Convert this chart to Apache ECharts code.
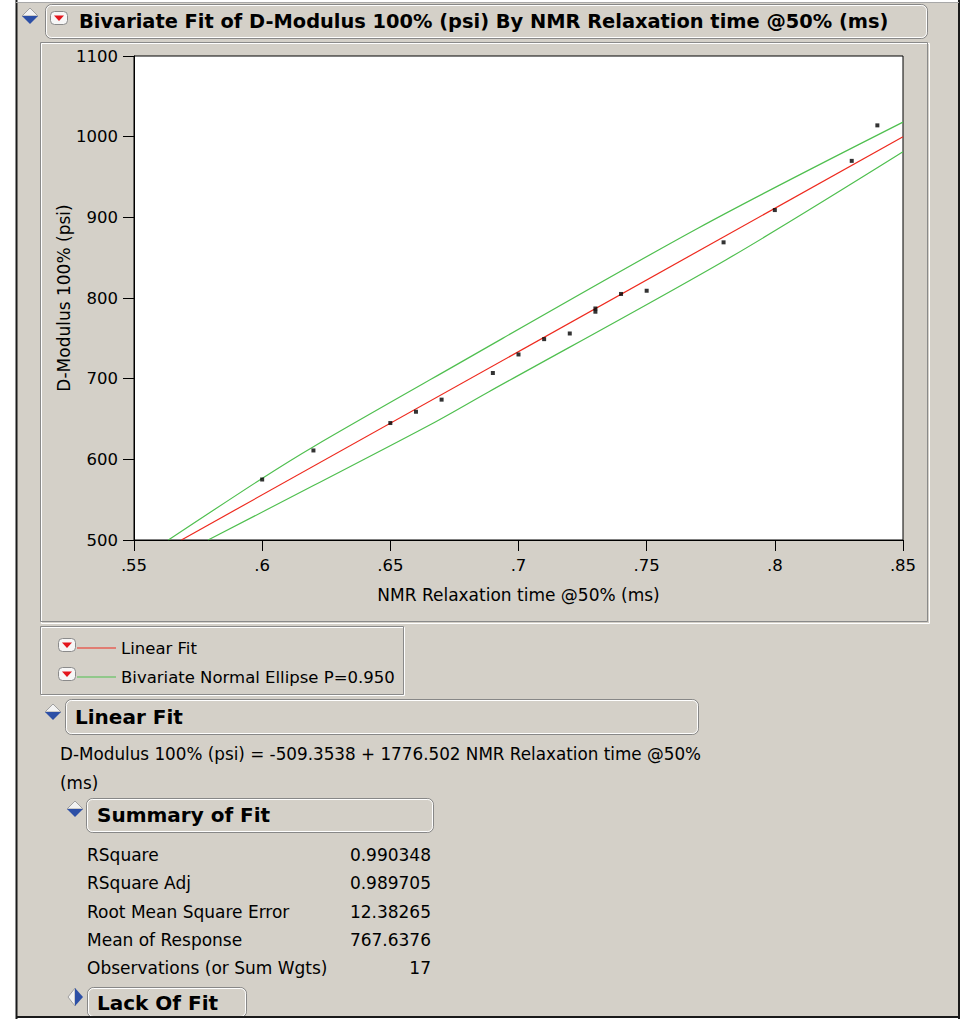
<!DOCTYPE html>
<html><head><meta charset="utf-8">
<script src="https://cdn.jsdelivr.net/npm/echarts@6/dist/echarts.min.js"></script>
<style>html,body{margin:0;padding:0;background:#fff;}#chart{width:961px;height:1019px;}</style>
</head><body><div id="chart"></div>
<script>
const titleText = 'Bivariate Fit of D-Modulus 100% (psi) By NMR Relaxation time @50% (ms)';
const xAxisName = 'NMR Relaxation time @50% (ms)';
const yAxisName = 'D-Modulus 100% (psi)';
const xTickLabels = ['.55', '.6', '.65', '.7', '.75', '.8', '.85'];
const yTickLabels = ['500', '600', '700', '800', '900', '1000', '1100'];
const nmrTime = [0.60, 0.62, 0.65, 0.66, 0.67, 0.69, 0.70, 0.71, 0.72, 0.73, 0.73, 0.74, 0.75, 0.78, 0.80, 0.83, 0.84];
const dModulus = [575, 611, 645, 659, 674, 707, 730, 749, 756, 787, 783, 805, 809, 869, 909, 970, 1014];
const fitLineX = [0.5685, 0.85];
const fitLineY = [500, 1000];
const ellipseUpperX = [0.5634, 0.5998, 0.620, 0.666, 0.770, 0.850];
const ellipseUpperY = [500, 576, 615.7, 699.5, 886.5, 1018];
const ellipseLowerX = [0.5789, 0.6202, 0.667, 0.6883, 0.7812, 0.850];
const ellipseLowerY = [500, 567.8, 645.4, 683.5, 847.8, 981.2];
const legendNames = ['Linear Fit', 'Bivariate Normal Ellipse P=0.950'];
const fitSectionTitle = 'Linear Fit';
const equationLines = ['D-Modulus 100% (psi) = -509.3538 + 1776.502 NMR Relaxation time @50%', '(ms)'];
const summaryTitle = 'Summary of Fit';
const summaryLabels = ['RSquare', 'RSquare Adj', 'Root Mean Square Error', 'Mean of Response', 'Observations (or Sum Wgts)'];
const summaryValues = ['0.990348', '0.989705', '12.38265', '767.6376', '17'];
const lackTitle = 'Lack Of Fit';

const BG = '#d4d0c8';
const FONT = '"DejaVu Sans", Verdana, sans-serif';
const xMin = 0.55, xMax = 0.85, xStep = 0.05;
const yMin = 500, yMax = 1100, yStep = 100;

function pairs(xs, ys) { return xs.map((x, i) => [x, ys[i]]); }

function txt(x, y, text, font, align) {
  return { type: 'text', x: x, y: y, z: 10, silent: true,
    style: { text: text, font: font, fill: '#000', align: align || 'left', verticalAlign: 'middle' } };
}
function headerBox(x, y, w, h) {
  return [
    { type: 'rect', z: -3, silent: true, shape: { x: x + 0.5, y: y + 0.5, width: w, height: h, r: 6 }, style: { fill: BG, stroke: '#878787', lineWidth: 1 } },
    { type: 'rect', z: -2, silent: true, shape: { x: x + 1.5, y: y + 1.5, width: w - 2, height: h - 2, r: 5 }, style: { fill: 'none', stroke: '#ffffff', lineWidth: 1 } }
  ];
}
function openDiamond(cx, cy) {
  return [
    { type: 'polygon', z: 5, silent: true, shape: { points: [[cx - 8, cy - 1], [cx, cy - 9], [cx + 8, cy - 1]] }, style: { fill: '#f2f2f2', stroke: '#a0a0a0', lineWidth: 1 } },
    { type: 'polygon', z: 5, silent: true, shape: { points: [[cx - 8, cy - 1], [cx + 8, cy - 1], [cx, cy + 7]] }, style: { fill: '#2c4fa6' } }
  ];
}
function closedDiamond(cx, cy) {
  return [
    { type: 'polygon', z: 5, silent: true, shape: { points: [[cx, cy - 9], [cx - 7, cy], [cx, cy + 9]] }, style: { fill: '#f2f2f2', stroke: '#a0a0a0', lineWidth: 1 } },
    { type: 'polygon', z: 5, silent: true, shape: { points: [[cx, cy - 9], [cx + 8, cy], [cx, cy + 9]] }, style: { fill: '#2c4fa6' } }
  ];
}
function redButton(cx, cy) {
  return [
    { type: 'rect', z: 5, silent: true, shape: { x: cx - 8.5, y: cy - 6.5, width: 17, height: 13, r: 4 }, style: { fill: '#f6f6f6', stroke: '#8a8a8a', lineWidth: 1 } },
    { type: 'polygon', z: 6, silent: true, shape: { points: [[cx - 5, cy - 2.5], [cx + 5, cy - 2.5], [cx, cy + 3]] }, style: { fill: '#e3151c' } }
  ];
}

let graphics = [];
graphics.push({ type: 'rect', z: -10, silent: true, shape: { x: 16, y: 2, width: 943, height: 1015 }, style: { fill: BG } });
graphics.push({ type: 'line', z: -1, silent: true, shape: { x1: 16.5, y1: 0, x2: 16.5, y2: 1019 }, style: { stroke: '#1a1a1a', lineWidth: 2 } });
graphics.push({ type: 'line', z: -1, silent: true, shape: { x1: 959, y1: 0, x2: 959, y2: 1019 }, style: { stroke: '#1a1a1a', lineWidth: 2 } });
graphics.push({ type: 'line', z: -1, silent: true, shape: { x1: 16, y1: 1017, x2: 960, y2: 1017 }, style: { stroke: '#1a1a1a', lineWidth: 2 } });
graphics.push({ type: 'line', z: -1, silent: true, shape: { x1: 16, y1: 2.5, x2: 959, y2: 2.5 }, style: { stroke: '#a8a8a8', lineWidth: 1 } });
graphics = graphics.concat(headerBox(45, 4, 882, 34));
graphics = graphics.concat(openDiamond(30, 17));
graphics = graphics.concat(redButton(59, 18));
graphics.push(txt(79, 21, titleText, 'bold 19.4px ' + FONT));
graphics.push({ type: 'rect', z: -3, silent: true, shape: { x: 41.5, y: 43.5, width: 888, height: 580 }, style: { fill: 'none', stroke: '#ffffff', lineWidth: 1 } });
graphics.push({ type: 'rect', z: -3, silent: true, shape: { x: 40.5, y: 42.5, width: 887, height: 579 }, style: { fill: 'none', stroke: '#8a8a8a', lineWidth: 1 } });
graphics.push({ type: 'rect', z: -3, silent: true, shape: { x: 41.5, y: 627.5, width: 363, height: 68 }, style: { fill: 'none', stroke: '#ffffff', lineWidth: 1 } });
graphics.push({ type: 'rect', z: -3, silent: true, shape: { x: 40.5, y: 626.5, width: 363, height: 68 }, style: { fill: 'none', stroke: '#8a8a8a', lineWidth: 1 } });
graphics = graphics.concat(redButton(67, 645));
graphics = graphics.concat(redButton(67, 674));
graphics = graphics.concat(headerBox(65, 699, 633, 35));
graphics = graphics.concat(openDiamond(53, 713));
graphics.push(txt(75, 717, fitSectionTitle, 'bold 20px ' + FONT));
graphics.push(txt(60, 754, equationLines[0], '16.8px ' + FONT));
graphics.push(txt(60, 783, equationLines[1], '16.8px ' + FONT));
graphics = graphics.concat(headerBox(86, 798, 347, 34));
graphics = graphics.concat(openDiamond(75, 810));
graphics.push(txt(97, 815, summaryTitle, 'bold 20px ' + FONT));
summaryLabels.forEach(function (lab, i) {
  const y = 855 + i * 28.3;
  graphics.push(txt(87, y, lab, '17px ' + FONT));
  graphics.push(txt(431, y, summaryValues[i], '17px ' + FONT, 'right'));
});
graphics = graphics.concat(headerBox(87, 987, 159, 30));
graphics = graphics.concat(closedDiamond(75, 997));
graphics.push(txt(97, 1003, lackTitle, 'bold 20px ' + FONT));

const chart = echarts.init(document.getElementById('chart'), null, { renderer: 'svg' });
chart.setOption({
  backgroundColor: '#ffffff',
  animation: false,
  textStyle: { fontFamily: FONT },
  grid: { left: 134, right: 58, top: 56, bottom: 479, show: true, backgroundColor: '#ffffff', borderColor: '#000000', borderWidth: 1, containLabel: false },
  legend: {
    data: legendNames, orient: 'vertical', left: 77, top: 638, padding: 0,
    itemWidth: 39, itemHeight: 1, itemGap: 9, icon: 'rect', selectedMode: false,
    textStyle: { fontFamily: FONT, fontSize: 16.5, color: '#000', lineHeight: 20 }
  },
  xAxis: {
    type: 'value', min: xMin, max: xMax, interval: xStep,
    name: xAxisName, nameLocation: 'middle', nameGap: 46, nameMoveOverlap: false,
    nameTextStyle: { fontFamily: FONT, fontSize: 17, color: '#000' },
    axisLine: { show: true, onZero: false, lineStyle: { color: '#000', width: 1 } },
    axisTick: { show: true, inside: false, length: 11, lineStyle: { color: '#000' } },
    axisLabel: { margin: 17, fontFamily: FONT, fontSize: 16.5, color: '#000',
      formatter: function (v) { return xTickLabels[Math.round((v - xMin) / xStep)]; } },
    splitLine: { show: false }
  },
  yAxis: {
    type: 'value', min: yMin, max: yMax, interval: yStep,
    name: yAxisName, nameLocation: 'middle', nameGap: 62, nameMoveOverlap: false,
    nameTextStyle: { fontFamily: FONT, fontSize: 17, color: '#000' },
    axisLine: { show: true, onZero: false, lineStyle: { color: '#000', width: 1 } },
    axisTick: { show: true, inside: false, length: 11, lineStyle: { color: '#000' } },
    axisLabel: { margin: 16, fontFamily: FONT, fontSize: 16.5, color: '#000',
      formatter: function (v) { return yTickLabels[Math.round((v - yMin) / yStep)]; } },
    splitLine: { show: false }
  },
  series: [
    { name: legendNames[1], type: 'line', data: pairs(ellipseUpperX, ellipseUpperY), smooth: 0.3, showSymbol: false, color: '#4fbf4f', lineStyle: { width: 1.2, color: '#4fbf4f' }, clip: true, z: 3 },
    { name: legendNames[1], type: 'line', data: pairs(ellipseLowerX, ellipseLowerY), smooth: 0.3, showSymbol: false, color: '#4fbf4f', lineStyle: { width: 1.2, color: '#4fbf4f' }, clip: true, z: 3 },
    { name: legendNames[0], type: 'line', data: pairs(fitLineX, fitLineY), showSymbol: false, color: '#ee2a1e', lineStyle: { width: 1.2, color: '#ee2a1e' }, clip: true, z: 4 },
    { name: 'Observations', type: 'scatter', data: pairs(nmrTime, dModulus), symbol: 'rect', symbolSize: 4, itemStyle: { color: '#000' }, z: 5 }
  ],
  graphic: { elements: graphics }
});
</script></body></html>
